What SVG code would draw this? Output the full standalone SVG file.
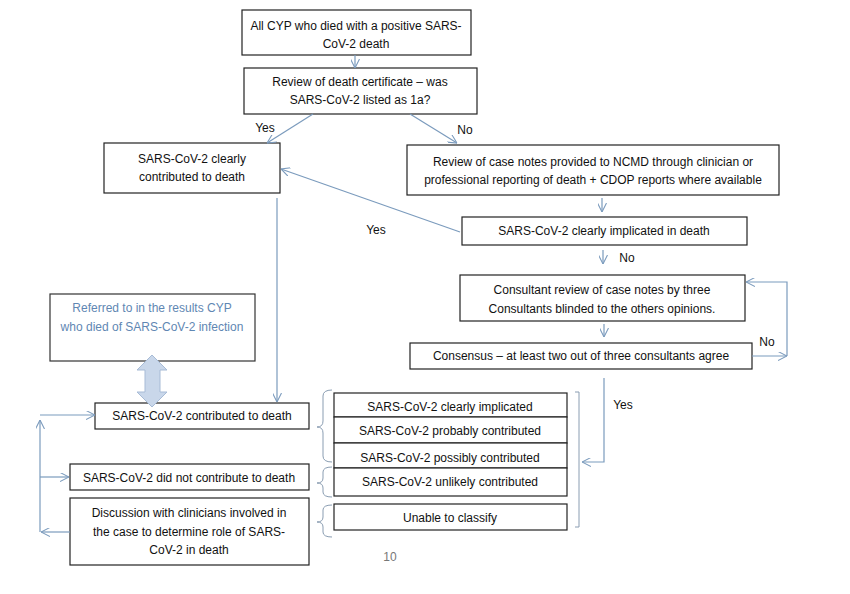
<svg xmlns="http://www.w3.org/2000/svg" width="850" height="594" viewBox="0 0 850 594">
<style>
.b{fill:#fff;stroke:#222;stroke-width:1.2}
.t{font-family:"Liberation Sans",Arial,sans-serif;font-size:12px;fill:#111;text-anchor:middle}
.l{font-family:"Liberation Sans",Arial,sans-serif;font-size:12px;fill:#111;text-anchor:middle}
.c{fill:none;stroke:#7b9bbd;stroke-width:1.2}
.br{fill:none;stroke:#8a9db2;stroke-width:1}
</style>
<defs>
<marker id="a" viewBox="0 0 10 10" refX="10" refY="5" markerWidth="9" markerHeight="9" orient="auto" markerUnits="userSpaceOnUse">
<path d="M0,0 L10,5 L0,10" fill="none" stroke="#7b9bbd" stroke-width="1.2"/>
</marker>
</defs>
<rect width="850" height="594" fill="#fff"/>
<g id="n1"><rect class="b" x="242" y="10" width="229" height="45"/><text class="t" x="356" y="30">All CYP who died with a positive SARS-</text><text class="t" x="356" y="48">CoV-2 death</text></g>
<g id="n2"><rect class="b" x="244" y="68" width="233" height="46"/><text class="t" x="360" y="86">Review of death certificate – was</text><text class="t" x="360" y="104">SARS-CoV-2 listed as 1a?</text></g>
<g id="n3"><rect class="b" x="104" y="143" width="176" height="50"/><text class="t" x="192" y="163">SARS-CoV-2 clearly</text><text class="t" x="192" y="181">contributed to death</text></g>
<g id="n4"><rect class="b" x="407" y="145" width="372" height="50"/><text class="t" x="593" y="166">Review of case notes provided to NCMD through clinician or</text><text class="t" x="593" y="184">professional reporting of death + CDOP reports where available</text></g>
<g id="n5"><rect class="b" x="462" y="217" width="285" height="28"/><text class="t" x="604" y="235">SARS-CoV-2 clearly implicated in death</text></g>
<g id="n6"><rect class="b" x="460" y="275" width="285" height="46"/><text class="t" x="602" y="294">Consultant review of case notes by three</text><text class="t" x="602" y="313">Consultants blinded to the others opinions.</text></g>
<g id="n7"><rect class="b" x="410" y="343" width="342" height="26"/><text class="t" x="581" y="360">Consensus – at least two out of three consultants agree</text></g>
<g id="n8"><rect fill="#fff" stroke="#333" stroke-width="1.2" x="50" y="294" width="205" height="67"/><text class="t" x="152" y="312" style="fill:#5f87b3">Referred to in the results CYP</text><text class="t" x="152" y="331" style="fill:#5f87b3">who died of SARS-CoV-2 infection</text></g>
<g id="n9"><rect class="b" x="95" y="403" width="214" height="26"/><text class="t" x="202" y="420">SARS-CoV-2 contributed to death</text></g>
<g id="n10"><rect class="b" x="70" y="464" width="239" height="26"/><text class="t" x="189" y="482">SARS-CoV-2 did not contribute to death</text></g>
<g id="n11"><rect class="b" x="70" y="498" width="239" height="67"/><text class="t" x="189" y="517">Discussion with clinicians involved in</text><text class="t" x="189" y="536">the case to determine role of SARS-</text><text class="t" x="189" y="554">CoV-2 in death</text></g>
<g id="n12"><rect class="b" x="334" y="393" width="233" height="24"/><text class="t" x="450" y="411">SARS-CoV-2  clearly implicated</text></g>
<g id="n13"><rect class="b" x="334" y="417" width="233" height="26"/><text class="t" x="450" y="435">SARS-CoV-2  probably contributed</text></g>
<g id="n14"><rect class="b" x="334" y="443" width="233" height="25"/><text class="t" x="450" y="462">SARS-CoV-2  possibly contributed</text></g>
<g id="n15"><rect class="b" x="334" y="468" width="233" height="28"/><text class="t" x="450" y="486">SARS-CoV-2  unlikely contributed</text></g>
<g id="n16"><rect class="b" x="334" y="504" width="233" height="26"/><text class="t" x="450" y="522">Unable to classify</text></g>
<g id="connectors">
<line class="c" x1="355" y1="55" x2="355" y2="68" marker-end="url(#a)"/>
<line class="c" x1="313" y1="114" x2="267" y2="143" marker-end="url(#a)"/>
<line class="c" x1="410" y1="114" x2="457" y2="143" marker-end="url(#a)"/>
<line class="c" x1="602" y1="198" x2="602" y2="212" marker-end="url(#a)"/>
<line class="c" x1="460" y1="232" x2="281" y2="169" marker-end="url(#a)"/>
<line class="c" x1="603" y1="250" x2="603" y2="264" marker-end="url(#a)"/>
<line class="c" x1="604" y1="324" x2="604" y2="337" marker-end="url(#a)"/>
<line class="c" x1="752" y1="356" x2="787" y2="356" marker-end="url(#a)"/>
<polyline class="c" points="787,356 787,282 746,282" marker-end="url(#a)"/>
<polyline class="c" points="604,378 604,462 582,462" marker-end="url(#a)"/>
<line class="c" x1="277" y1="198" x2="277" y2="402" marker-end="url(#a)"/>
<line class="c" x1="40" y1="415" x2="95" y2="415" marker-end="url(#a)"/>
<line class="c" x1="40" y1="532" x2="40" y2="420" marker-end="url(#a)"/>
<line class="c" x1="40" y1="477" x2="69" y2="477" marker-end="url(#a)"/>
<line class="c" x1="70" y1="532" x2="41" y2="532" marker-end="url(#a)"/>
<path d="M152,355 L167,370 L160,370 L160,392 L167,392 L152,407 L137,392 L145,392 L145,370 L137,370 Z" fill="#c9d7ea" stroke="#a7bbd6" stroke-width="1"/>
<path class="br" d="M332,390 Q323,390 323,396 L323,421 Q323,427 317,427 Q323,427 323,433 L323,456 Q323,462 332,462"/>
<path class="br" d="M332,467 Q323,467 323,472 L323,478 Q323,483 317,483 Q323,483 323,488 L323,492 Q323,497 332,497"/>
<path class="br" d="M332,505 Q323,505 323,510 L323,517 Q323,522 317,522 Q323,522 323,527 L323,532 Q323,537 332,537"/>
<path class="br" d="M575,392 L579,392 L579,527 L575,527"/>
</g>
<g id="labels">
<text class="l" x="265" y="132">Yes</text>
<text class="l" x="465" y="134">No</text>
<text class="l" x="376" y="234">Yes</text>
<text class="l" x="627" y="262">No</text>
<text class="l" x="767" y="346">No</text>
<text class="l" x="623" y="409">Yes</text>
<text class="l" x="390" y="561" style="fill:#777">10</text>
</g>
</svg>
